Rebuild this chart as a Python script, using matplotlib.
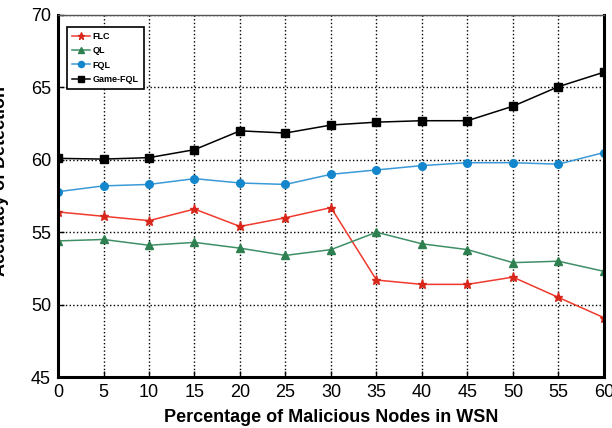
import matplotlib.pyplot as plt

# percentage of malicious nodes
x = [0, 5, 10, 15, 20, 25, 30, 35, 40, 45, 50, 55, 60]

flc = [56.4, 56.1, 55.8, 56.6, 55.4, 56.0, 56.7, 51.7, 51.4, 51.4, 51.9, 50.5, 49.1]
ql = [54.4, 54.5, 54.1, 54.3, 53.9, 53.4, 53.8, 55.0, 54.2, 53.8, 52.9, 53.0, 52.3]
fql = [57.8, 58.2, 58.3, 58.7, 58.4, 58.3, 59.0, 59.3, 59.6, 59.8, 59.8, 59.7, 60.5]
game_fql = [60.1, 60.05, 60.15, 60.7, 62.0, 61.85, 62.4, 62.6, 62.7, 62.7, 63.7, 65.05, 66.05]

plt.rcParams['font.family'] = ['Liberation Sans', 'DejaVu Sans']

fig = plt.figure(figsize=(6.12, 4.28), dpi=100)
ax = fig.add_axes([0.0948, 0.119, 0.892, 0.846])

ax.plot(x, flc, color='#f03a2e', lw=1.1, marker='*', ms=6.5, mfc='#d8261a', mec='#d8261a', label='FLC')
ax.plot(x, ql, color='#3f8f66', lw=1.1, marker='^', ms=5.5, mfc='#2e8050', mec='#2e8050', label='QL')
ax.plot(x, fql, color='#3a9ad8', lw=1.1, marker='o', ms=5.5, mfc='#1486cc', mec='#1486cc', label='FQL')
ax.plot(x, game_fql, color='black', lw=1.1, marker='s', ms=5.5, label='Game-FQL')

ax.set_xlim(0, 60)
ax.set_ylim(45, 70)
ax.set_xticks(range(0, 61, 5))
ax.set_yticks(range(45, 71, 5))
ax.tick_params(labelsize=13, direction='in', length=4, width=1, pad=5)
ax.grid(True, color='black', linestyle=':', linewidth=1)

for side in ['left', 'bottom', 'right']:
    ax.spines[side].set_linewidth(2.2)
ax.spines['top'].set_linewidth(1)
ax.spines['top'].set_color('#555555')

ax.set_xlabel('Percentage of Malicious Nodes in WSN', fontsize=13, fontweight='heavy', labelpad=6)
# y label sits partly past the left edge of the figure
fig.text(0.001, 0.577, 'Accuracy of Detection', rotation=90, ha='center', va='center',
         fontsize=13, fontweight='heavy')

leg = ax.legend(loc='upper left', prop={'weight': 'bold', 'size': 6.5},
                fancybox=False, edgecolor='black', framealpha=1,
                handlelength=2.0, borderpad=0.55, labelspacing=0.6, markerscale=0.8,
                handletextpad=0.3, bbox_to_anchor=(0.008, 0.98))
leg.get_frame().set_linewidth(1.2)

fig.savefig('out.png', dpi=100)
